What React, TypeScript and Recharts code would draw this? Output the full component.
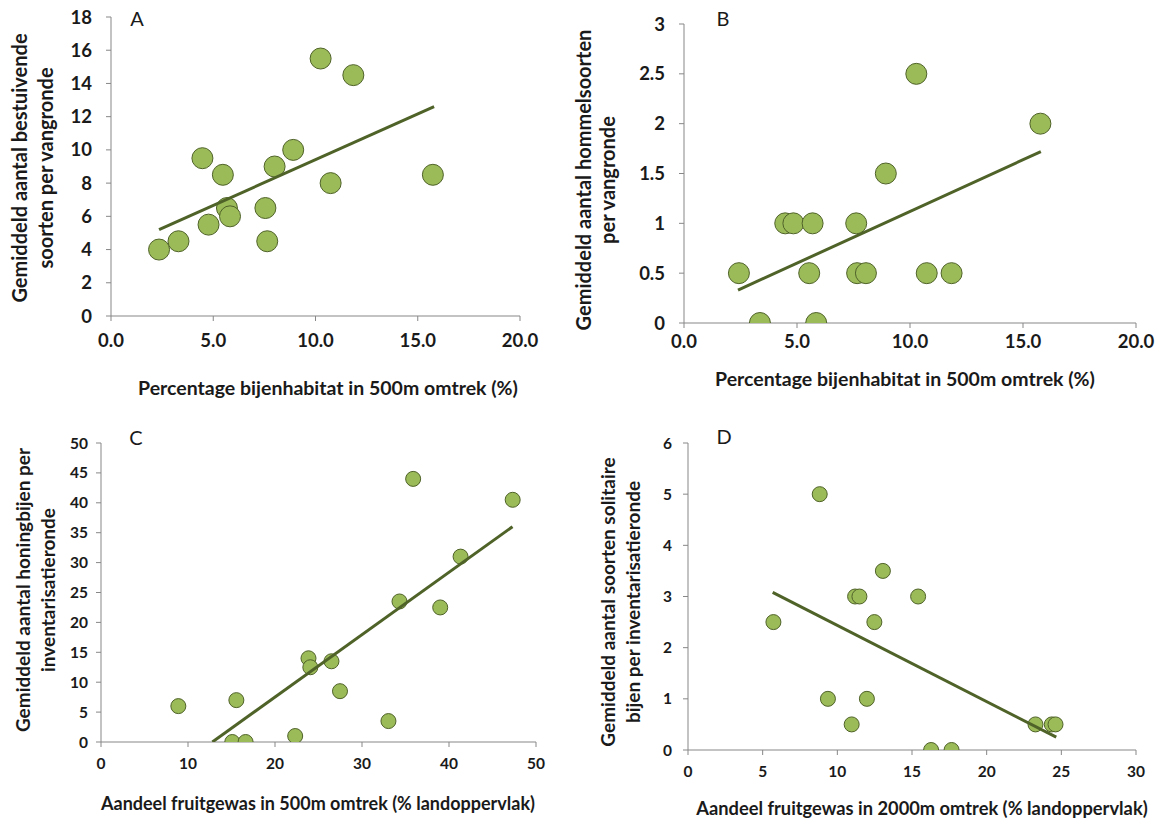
import React from 'react';
import { ScatterChart, Scatter, XAxis, YAxis } from 'recharts';

// Panel A: bestuivende soorten vs bijenhabitat 500m
const xA = [2.35, 3.3, 4.47, 4.77, 5.47, 5.67, 5.82, 7.55, 7.64, 8.0, 8.91, 10.25, 10.74, 11.85, 15.74];
const yA = [4, 4.5, 9.5, 5.5, 8.5, 6.5, 6, 6.5, 4.5, 9, 10, 15.5, 8, 14.5, 8.5];
const trendAx = [2.35, 15.8];
const trendAy = [5.2, 12.6];

// Panel B: hommelsoorten vs bijenhabitat 500m
const xB = [2.43, 3.36, 4.48, 4.84, 5.54, 5.69, 5.85, 7.62, 7.66, 8.05, 8.93, 10.28, 10.74, 11.84, 15.77];
const yB = [0.5, 0, 1, 1, 0.5, 1, 0, 1, 0.5, 0.5, 1.5, 2.5, 0.5, 0.5, 2];
const trendBx = [2.39, 15.79];
const trendBy = [0.33, 1.72];

// Panel C: honingbijen vs fruitgewas 500m
const xC = [8.89, 15.56, 15.09, 16.62, 22.32, 23.85, 24.06, 26.49, 27.47, 33.04, 34.31, 35.88, 38.99, 41.33, 47.32];
const yC = [6, 7, 0, 0, 1, 14, 12.5, 13.5, 8.5, 3.5, 23.5, 44, 22.5, 31, 40.5];
const trendCx = [12.8, 47.3];
const trendCy = [0, 36];

// Panel D: solitaire bijen vs fruitgewas 2000m
const xD = [5.72, 8.82, 9.37, 10.96, 11.19, 11.48, 11.98, 12.48, 13.05, 15.41, 16.28, 17.65, 23.27, 24.36, 24.61];
const yD = [2.5, 5, 1, 0.5, 3, 3, 1, 2.5, 3.5, 3, 0, 0, 0.5, 0.5, 0.5];
const trendDx = [5.67, 24.66];
const trendDy = [3.08, 0.25];

// Ticks
const ticksX20 = [0, 5, 10, 15, 20];
const ticksYA = [0, 2, 4, 6, 8, 10, 12, 14, 16, 18];
const ticksYB = [0, 0.5, 1, 1.5, 2, 2.5, 3];
const ticksXC = [0, 10, 20, 30, 40, 50];
const ticksYC = [0, 5, 10, 15, 20, 25, 30, 35, 40, 45, 50];
const ticksXD = [0, 5, 10, 15, 20, 25, 30];
const ticksYD = [0, 1, 2, 3, 4, 5, 6];

const W = 1164;
const H = 823;
const FONT = 'Lato, "Open Sans", "DejaVu Sans", sans-serif';
const FILL = '#9BBB59';
const EDGE = '#4F6228';
const TREND = '#4F6228';
const AXIS = '#878787';
const TEXT = '#1a1a1a';

const zip = (xs: number[], ys: number[]) => xs.map((x, i) => ({ x, y: ys[i] }));

type PanelProps = {
  px0: number; px1: number; py0: number; py1: number;
  xs: number[]; ys: number[]; tx: number[]; ty: number[];
  xTicks: number[]; yTicks: number[];
  xFmt: (v: number) => string;
  tickFont: number; r: number; xTickMargin: number; yTickMargin: number;
};

function Panel(p: PanelProps) {
  const YW = 60;
  const XH = 40;
  const margin = { top: p.py0, left: p.px0 - YW, right: W - p.px1, bottom: H - p.py1 - XH };
  const tickStyle = { fill: TEXT, fontSize: p.tickFont, fontWeight: 700, fontFamily: FONT };
  const xDom = [p.xTicks[0], p.xTicks[p.xTicks.length - 1]];
  const yDom = [p.yTicks[0], p.yTicks[p.yTicks.length - 1]];
  return (
    <div style={{ position: 'absolute', left: 0, top: 0, width: W, height: H }}>
      <ScatterChart width={W} height={H} margin={margin}>
        <XAxis type="number" dataKey="x" domain={xDom} ticks={p.xTicks} tickFormatter={p.xFmt}
          height={XH} tick={tickStyle} tickMargin={p.xTickMargin} tickSize={5}
          axisLine={{ stroke: AXIS }} tickLine={{ stroke: AXIS }} interval={0} allowDataOverflow />
        <YAxis type="number" dataKey="y" domain={yDom} ticks={p.yTicks} width={YW}
          tick={tickStyle} tickMargin={p.yTickMargin} tickSize={5}
          axisLine={{ stroke: AXIS }} tickLine={{ stroke: AXIS }} interval={0} allowDataOverflow />
        <Scatter data={zip(p.xs, p.ys)} isAnimationActive={false}
          shape={(s: any) => <circle cx={s.cx} cy={s.cy} r={p.r} fill={FILL} stroke={EDGE} strokeWidth={1} />} />
        <Scatter data={zip(p.tx, p.ty)} isAnimationActive={false}
          line={{ stroke: TREND, strokeWidth: 3 }} shape={() => <g />} />
      </ScatterChart>
    </div>
  );
}

function VTitle({ cx, cy, lines, size }: { cx: number[]; cy: number; lines: string[]; size: number }) {
  return (
    <g>
      {lines.map((t, i) => (
        <text key={i} x={cx[i]} y={cy} transform={`rotate(-90, ${cx[i]}, ${cy})`} textAnchor="middle"
          dominantBaseline="central" fontSize={size} fontWeight={700} fontFamily={FONT} fill={TEXT}>{t}</text>
      ))}
    </g>
  );
}

function HTitle({ x, y, text, size }: { x: number; y: number; text: string; size: number }) {
  return (
    <text x={x} y={y} textAnchor="middle" dominantBaseline="central" fontSize={size} fontWeight={700}
      fontFamily={FONT} fill={TEXT}>{text}</text>
  );
}

function Letter({ x, y, t }: { x: number; y: number; t: string }) {
  return (
    <text x={x} y={y} textAnchor="middle" dominantBaseline="central" fontSize={20} fontFamily={FONT} fill={TEXT}>{t}</text>
  );
}

const f1 = (v: number) => v.toFixed(1);
const f0 = (v: number) => String(v);

export default function App() {
  return (
    <div style={{ position: 'absolute', left: 0, top: 0, width: W, height: H, background: '#fff', overflow: 'hidden' }}>
      <Panel px0={111} px1={520} py0={17} py1={316} xs={xA} ys={yA} tx={trendAx} ty={trendAy}
        xTicks={ticksX20} yTicks={ticksYA} xFmt={f1} tickFont={18.5} r={10.5} xTickMargin={13} yTickMargin={14} />
      <Panel px0={684} px1={1136} py0={24} py1={323} xs={xB} ys={yB} tx={trendBx} ty={trendBy}
        xTicks={ticksX20} yTicks={ticksYB} xFmt={f1} tickFont={18.5} r={10.5} xTickMargin={7} yTickMargin={14} />
      <Panel px0={101} px1={536} py0={443} py1={742} xs={xC} ys={yC} tx={trendCx} ty={trendCy}
        xTicks={ticksXC} yTicks={ticksYC} xFmt={f0} tickFont={15.5} r={7.5} xTickMargin={11} yTickMargin={8} />
      <Panel px0={688} px1={1136} py0={443} py1={750} xs={xD} ys={yD} tx={trendDx} ty={trendDy}
        xTicks={ticksXD} yTicks={ticksYD} xFmt={f0} tickFont={15.5} r={7.5} xTickMargin={11} yTickMargin={11} />
      <svg width={W} height={H} style={{ position: 'absolute', left: 0, top: 0, pointerEvents: 'none' }}>
        <Letter x={137} y={18} t="A" />
        <Letter x={723} y={18} t="B" />
        <Letter x={136} y={437} t="C" />
        <Letter x={724} y={436} t="D" />
        <VTitle cx={[19, 45]} cy={168} size={20} lines={['Gemiddeld aantal bestuivende', 'soorten per vangronde']} />
        <VTitle cx={[583, 607]} cy={180} size={20} lines={['Gemiddeld aantal hommelsoorten', 'per vangronde']} />
        <VTitle cx={[22, 47]} cy={590} size={19} lines={['Gemiddeld aantal honingbijen per', 'inventarisatieronde']} />
        <VTitle cx={[607, 632]} cy={602} size={19} lines={['Gemiddeld aantal soorten solitaire', 'bijen per inventarisatieronde']} />
        <HTitle x={328} y={387} size={19.5} text="Percentage bijenhabitat in 500m omtrek (%)" />
        <HTitle x={905} y={378} size={19.5} text="Percentage bijenhabitat in 500m omtrek (%)" />
        <HTitle x={318} y={803} size={18} text="Aandeel fruitgewas in 500m omtrek (% landoppervlak)" />
        <HTitle x={922} y={808} size={18.3} text="Aandeel fruitgewas in 2000m omtrek (% landoppervlak)" />
      </svg>
    </div>
  );
}
